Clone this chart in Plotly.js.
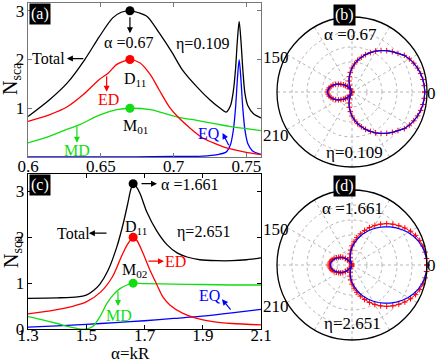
<!DOCTYPE html>
<html>
<head>
<meta charset="utf-8">
<script src="https://cdn.plot.ly/plotly-3.0.1.min.js"></script>
<style>
  html, body { margin: 0; padding: 0; background: #fff; }
  #chart { width: 436px; height: 363px; }
</style>
</head>
<body>
<div id="chart"></div>
<script>
// ---- panel (a): eta = 0.109 ----
const aTotalX = [0.6, 0.615, 0.627, 0.639, 0.649, 0.658, 0.664, 0.67, 0.676, 0.682, 0.69, 0.699, 0.706, 0.716, 0.725, 0.732, 0.736, 0.739, 0.741, 0.7425, 0.7438, 0.745, 0.7462, 0.7475, 0.749, 0.751, 0.755, 0.76];
const aTotalY = [0.83, 1.18, 1.52, 2.0, 2.47, 2.85, 2.97, 3.0, 2.96, 2.88, 2.55, 2.14, 1.79, 1.44, 1.17, 1.0, 0.92, 1.05, 1.35, 1.8, 2.4, 2.78, 2.4, 1.8, 1.3, 1.05, 0.88, 0.8];
const aEdX = [0.6, 0.615, 0.627, 0.638, 0.649, 0.655, 0.661, 0.67, 0.677, 0.684, 0.69, 0.697, 0.703, 0.711, 0.72, 0.729, 0.737, 0.749, 0.76];
const aEdY = [0.73, 0.87, 1.03, 1.28, 1.59, 1.72, 1.9, 2.0, 1.93, 1.69, 1.38, 1.03, 0.82, 0.6, 0.39, 0.27, 0.18, 0.1, 0.05];
const aMdX = [0.6, 0.615, 0.627, 0.636, 0.649, 0.661, 0.67, 0.684, 0.693, 0.703, 0.716, 0.729, 0.738, 0.75, 0.76];
const aMdY = [0.29, 0.43, 0.57, 0.67, 0.86, 0.97, 1.0, 0.97, 0.9, 0.82, 0.75, 0.68, 0.63, 0.58, 0.54];
const aEqX = [0.6, 0.65, 0.7, 0.72, 0.73, 0.736, 0.739, 0.741, 0.7425, 0.7438, 0.745, 0.7462, 0.7475, 0.749, 0.751, 0.754, 0.76];
const aEqY = [0.0, 0.0, 0.01, 0.02, 0.05, 0.1, 0.25, 0.55, 1.0, 1.6, 2.0, 1.6, 1.0, 0.55, 0.27, 0.13, 0.05];
const aDotX = [0.67, 0.67, 0.67];
const aDotY = [3.0, 2.0, 1.0];

// ---- panel (c): eta = 2.651 ----
const cTotalX = [1.3, 1.4, 1.47, 1.5, 1.525, 1.547, 1.575, 1.605, 1.627, 1.643, 1.652, 1.661, 1.67, 1.685, 1.708, 1.742, 1.777, 1.812, 1.846, 1.89, 1.95, 2.0, 2.05, 2.1];
const cTotalY = [0.67, 0.68, 0.70, 0.74, 0.84, 0.98, 1.28, 1.79, 2.3, 2.75, 3.02, 3.17, 3.12, 2.95, 2.55, 2.14, 1.84, 1.66, 1.57, 1.51, 1.49, 1.49, 1.51, 1.55];
const cEdX = [1.3, 1.39, 1.45, 1.5, 1.55, 1.59, 1.62, 1.64, 1.661, 1.674, 1.695, 1.719, 1.743, 1.763, 1.788, 1.832, 1.88, 1.935, 2.0, 2.1];
const cEdY = [0.33, 0.41, 0.49, 0.59, 0.81, 1.14, 1.57, 1.83, 2.0, 1.93, 1.65, 1.28, 0.96, 0.7, 0.52, 0.34, 0.23, 0.16, 0.12, 0.09];
const cMdX = [1.3, 1.35, 1.4, 1.44, 1.47, 1.5, 1.523, 1.547, 1.571, 1.592, 1.616, 1.64, 1.661, 1.7, 1.8, 1.9, 2.0, 2.1];
const cMdY = [0.27, 0.2, 0.12, 0.05, 0.01, 0.0, 0.06, 0.27, 0.56, 0.74, 0.88, 0.96, 1.0, 0.99, 0.98, 0.97, 0.96, 0.96];
const cEqX = [1.3, 1.4, 1.5, 1.6, 1.7, 1.8, 1.9, 2.0, 2.1];
const cEqY = [0.04, 0.07, 0.1, 0.14, 0.18, 0.23, 0.28, 0.35, 0.43];
const cDotX = [1.661, 1.661, 1.661];
const cDotY = [3.17, 2.0, 1.0];

// ---- polar patterns (b) and (d), read from 0 to 180 deg, symmetric about 0 ----
const polarTheta = [0, 5, 10, 15, 20, 25, 30, 35, 40, 45, 50, 55, 60, 65, 70, 75, 80, 85, 90,
  95, 100, 105, 110, 115, 120, 125, 130, 135, 140, 145, 150, 155, 160, 165, 170, 175, 180];
// (b): red crosses and blue line coincide
const bPattern = [0.97, 0.967, 0.96, 0.948, 0.931, 0.909, 0.883, 0.852, 0.8, 0.76, 0.72, 0.675, 0.63, 0.58, 0.53, 0.48, 0.43, 0.375, 0.32,
  0.263, 0.207, 0.152, 0.098, 0.045, 0.005, 0.053, 0.098, 0.125, 0.15, 0.18, 0.21, 0.24, 0.27, 0.29, 0.31, 0.32, 0.33];
const dRed = [1.0, 0.998, 0.99, 0.98, 0.96, 0.935, 0.9, 0.86, 0.815, 0.77, 0.72, 0.665, 0.61, 0.55, 0.49, 0.43, 0.37, 0.31, 0.255,
  0.2, 0.15, 0.1, 0.055, 0.02, 0.01, 0.05, 0.09, 0.125, 0.16, 0.185, 0.205, 0.23, 0.255, 0.275, 0.29, 0.3, 0.305];
const dBlue = [1.0, 0.995, 0.985, 0.965, 0.94, 0.905, 0.865, 0.82, 0.77, 0.72, 0.665, 0.61, 0.555, 0.5, 0.445, 0.39, 0.335, 0.28, 0.23,
  0.18, 0.135, 0.09, 0.05, 0.015, 0.01, 0.05, 0.09, 0.12, 0.15, 0.17, 0.19, 0.22, 0.24, 0.26, 0.275, 0.285, 0.29];

const angleTicks = [0, 30, 60, 90, 120, 150, 180, 210, 240, 270, 300, 330];

const W = 436, H = 363;
const SERIF = '"Liberation Serif", "Times New Roman", serif';
const RED = '#ff0000', GREEN = '#11dd11', BLUE = '#0000ff';

// mirror a 0..180 deg half pattern onto the full circle
function fullTheta(half) {
  return half.concat(half.slice(0, -1).reverse().map(t => 360 - t));
}
function fullR(half) {
  return half.concat(half.slice(0, -1).reverse());
}

function curve(x, y, color, xa, ya) {
  return {
    x: x, y: y, xaxis: xa, yaxis: ya, type: 'scatter', mode: 'lines',
    line: {color: color, width: 1.3, shape: 'spline', smoothing: 0.8},
    hoverinfo: 'skip'
  };
}

function dots(x, y, xa, ya) {
  return {
    x: x, y: y, xaxis: xa, yaxis: ya, type: 'scatter', mode: 'markers',
    marker: {color: ['black', RED, GREEN], size: 9},
    hoverinfo: 'skip'
  };
}

function polarTraces(sub, red, blue) {
  return [{
    type: 'scatterpolar', subplot: sub, mode: 'lines+markers',
    theta: fullTheta(polarTheta), r: fullR(red),
    line: {color: RED, width: 1},
    marker: {symbol: 'cross-thin', size: 4, color: RED, line: {color: RED, width: 1}}
  }, {
    type: 'scatterpolar', subplot: sub, mode: 'lines',
    theta: fullTheta(polarTheta), r: fullR(blue),
    line: {color: BLUE, width: 1.2}
  }];
}

const data = [
  curve(aEqX, aEqY, BLUE, 'x', 'y'),
  curve(aMdX, aMdY, GREEN, 'x', 'y'),
  curve(aEdX, aEdY, RED, 'x', 'y'),
  curve(aTotalX, aTotalY, 'black', 'x', 'y'),
  dots(aDotX, aDotY, 'x', 'y'),
  curve(cEqX, cEqY, BLUE, 'x2', 'y2'),
  curve(cMdX, cMdY, GREEN, 'x2', 'y2'),
  curve(cEdX, cEdY, RED, 'x2', 'y2'),
  curve(cTotalX, cTotalY, 'black', 'x2', 'y2'),
  dots(cDotX, cDotY, 'x2', 'y2'),
  ...polarTraces('polar', bPattern, bPattern),
  ...polarTraces('polar2', dRed, dBlue)
];

// text, in data coordinates of one panel or in page pixels
function note(xref, yref, x, y, text, color, size) {
  return {
    xref: xref, yref: yref, x: x, y: y, text: text, showarrow: false,
    xanchor: 'center', yanchor: 'middle',
    font: {family: SERIF, size: size || 16, color: color || 'black'}
  };
}
function pnote(px, py, text, size, extra) {
  return Object.assign(note('paper', 'paper', px / W, 1 - py / H, text, 'black', size), extra || {});
}
function arrow(xref, yref, x0, y0, x1, y1, color) {
  return {
    xref: xref, yref: yref, x: x1, y: y1, ax: x0, ay: y0, axref: xref, ayref: yref,
    text: '', showarrow: true, arrowhead: 2, arrowsize: 1, arrowwidth: 1.2,
    arrowcolor: color, standoff: 0, startstandoff: 0
  };
}
function tag(px, py, text) {
  return {
    xref: 'paper', yref: 'paper', x: px / W, y: 1 - py / H, text: text, showarrow: false,
    xanchor: 'left', yanchor: 'top', bgcolor: 'black', borderpad: 1,
    font: {family: SERIF, size: 16, color: 'white'}
  };
}

const annotations = [
  // (a)
  arrow('x', 'y', 0.67, 2.9, 0.67, 2.54, 'black'),
  note('x', 'y', 0.669, 2.35, 'α =0.67'),
  note('x', 'y', 0.72, 2.31, 'η=0.109'),
  note('x', 'y', 0.6144, 2.02, 'Total'),
  arrow('x', 'y', 0.639, 2.02, 0.6267, 2.02, 'black'),
  note('x', 'y', 0.6733, 1.59, 'D<sub>11</sub>'),
  note('x', 'y', 0.6555, 1.18, 'ED', RED),
  arrow('x', 'y', 0.654, 1.69, 0.654, 1.34, RED),
  note('x', 'y', 0.674, 0.62, 'M<sub>01</sub>'),
  note('x', 'y', 0.6336, 0.14, 'MD', GREEN),
  arrow('x', 'y', 0.6336, 0.66, 0.6336, 0.29, GREEN),
  note('x', 'y', 0.724, 0.49, 'EQ', BLUE),
  arrow('x', 'y', 0.7384, 0.21, 0.7336, 0.49, BLUE),
  // (c)
  arrow('x2', 'y2', 1.6846, 3.17, 1.743, 3.17, 'black'),
  note('x2', 'y2', 1.856, 3.15, 'α =1.661'),
  note('x2', 'y2', 1.901, 2.11, 'η=2.651'),
  note('x2', 'y2', 1.671, 2.22, 'D<sub>11</sub>'),
  note('x2', 'y2', 1.667, 1.28, 'M<sub>02</sub>'),
  note('x2', 'y2', 1.4545, 2.09, 'Total'),
  arrow('x2', 'y2', 1.5747, 2.09, 1.509, 2.09, 'black'),
  note('x2', 'y2', 1.805, 1.48, 'ED', RED),
  arrow('x2', 'y2', 1.7086, 1.48, 1.767, 1.48, RED),
  note('x2', 'y2', 1.6125, 0.30, 'MD', GREEN),
  arrow('x2', 'y2', 1.609, 0.85, 1.609, 0.5, GREEN),
  note('x2', 'y2', 1.925, 0.74, 'EQ', BLUE),
  arrow('x2', 'y2', 2.0, 0.39, 1.966, 0.65, BLUE),
  // axis titles
  pnote(12, 79, 'N<sub>sca</sub>', 20, {textangle: -90}),
  pnote(12, 252, 'N<sub>sca</sub>', 20, {textangle: -90}),
  pnote(130, 353, 'α=kR', 17),
  // polar texts
  pnote(350, 35, 'α =0.67', 17),
  pnote(354, 152, 'η=0.109', 17),
  pnote(352, 208, 'α =1.661', 17),
  pnote(352, 323, 'η=2.651', 17),
  // polar angle labels
  pnote(276, 57, '150', 17),
  pnote(276, 135, '210', 17),
  pnote(431, 93, '0', 17),
  pnote(276, 229, '150', 17),
  pnote(276, 306, '210', 17),
  pnote(431, 265, '0', 17),
  // panel tags
  tag(29, 3, '(a)'),
  tag(29, 174, '(c)'),
  tag(333, 4, '(b)'),
  tag(333, 175, '(d)')
];

function cartAxis(domain, range, tickvals, anchor, lineColor, standoff) {
  return {
    domain: domain, range: range, anchor: anchor, tickvals: tickvals,
    ticks: 'inside', ticklen: 4, tickwidth: 1, tickcolor: lineColor,
    mirror: 'allticks', showline: true, linecolor: lineColor, linewidth: 1.3,
    showgrid: false, zeroline: false, fixedrange: true, ticklabelstandoff: standoff,
    tickfont: {family: SERIF, size: 17, color: 'black'}
  };
}

function polarAxes(x0, y0, size) {
  return {
    domain: {x: [x0 / W, (x0 + size) / W], y: [1 - (y0 + size) / H, 1 - y0 / H]},
    bgcolor: 'white',
    radialaxis: {
      range: [0, 1], tickvals: [0.2, 0.4, 0.6, 0.8], showticklabels: false, ticks: '',
      showline: false, gridcolor: '#b5b5b5', griddash: 'dot', gridwidth: 1
    },
    angularaxis: {
      rotation: 0, direction: 'counterclockwise', tickvals: angleTicks,
      showticklabels: false, ticks: '', showline: true, linecolor: 'black', linewidth: 1.3,
      gridcolor: '#b5b5b5', griddash: 'dot', gridwidth: 1
    }
  };
}

const layout = {
  width: W, height: H,
  margin: {l: 0, r: 0, t: 0, b: 0},
  paper_bgcolor: 'white', plot_bgcolor: 'white',
  showlegend: false,
  xaxis: cartAxis([28 / W, 261 / W], [0.6, 0.76], [0.6, 0.65, 0.7, 0.75], 'y', '#777777', -7),
  yaxis: cartAxis([1 - 157 / H, 1 - 3 / H], [0, 3.16], [1, 2, 3], 'x', '#777777', -1),
  xaxis2: cartAxis([28 / W, 261 / W], [1.3, 2.1], [1.3, 1.5, 1.7, 1.9, 2.1], 'y2', 'black', -10),
  yaxis2: cartAxis([1 - 329 / H, 1 - 174 / H], [0, 3.38], [0, 1, 2, 3], 'x2', 'black', -1),
  polar: polarAxes(277, 17, 150),
  polar2: polarAxes(277, 190, 150),
  annotations: annotations
};

Plotly.newPlot('chart', data, layout, {staticPlot: true, displayModeBar: false});
</script>
</body>
</html>
